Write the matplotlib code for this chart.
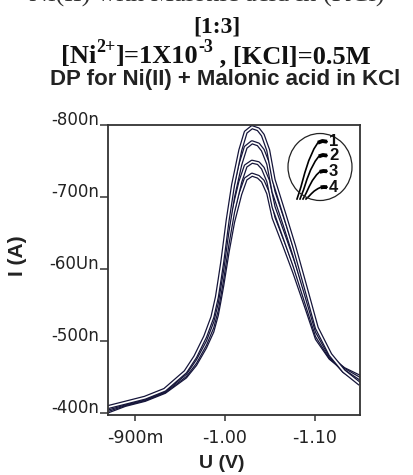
import matplotlib
matplotlib.use("Agg")
import matplotlib.pyplot as plt
from matplotlib.patches import Ellipse

# ---- data ----
potential = [-0.870, -0.889, -0.911, -0.933, -0.956, -0.967, -0.978, -0.986, -0.991,
             -0.994, -0.997, -1.003, -1.009, -1.017, -1.023, -1.030, -1.037, -1.042,
             -1.048, -1.054, -1.066, -1.077, -1.091, -1.102, -1.117, -1.132, -1.150]
current_1 = [-408, -414, -421, -432, -457, -478, -506, -533, -561, -585, -610, -668, -717,
             -765, -790, -797, -794, -786, -765, -724, -676, -631, -568, -518, -481, -458, -440]
current_2 = [-406, -413, -420, -431, -455, -475, -501, -527, -553, -576, -599, -654, -700,
             -745, -769, -776, -773, -765, -746, -707, -662, -619, -560, -513, -479, -458, -443]
current_3 = [-404, -412, -419, -430, -452, -470, -495, -519, -543, -564, -586, -636, -679,
             -721, -743, -749, -747, -740, -722, -686, -644, -605, -550, -507, -477, -460, -447]
current_4 = [-402, -411, -418, -429, -450, -467, -491, -513, -536, -556, -577, -624, -665,
             -704, -725, -731, -728, -722, -705, -671, -632, -595, -544, -503, -476, -461, -450]
series = [current_1, current_2, current_3, current_4]
series_labels = ["1", "2", "3", "4"]

x_ticks = [-0.90, -1.00, -1.10]
x_tick_labels = ["-900m", "-1.00", "-1.10"]
y_ticks = [-800, -700, -600, -500, -400]
y_tick_labels = ["-800n", "-700n", "-60Un", "-500n", "-400n"]

W, H = 414, 475
fig = plt.figure(figsize=(W / 100, H / 100), dpi=100)
fig.patch.set_facecolor('white')

ax = fig.add_axes([108 / W, 1 - 415 / H, 252 / W, 290 / H])
for cur in reversed(series):
    ax.plot(potential, cur, color='#15153a', lw=3.0, solid_capstyle='butt', zorder=2)
    ax.plot(potential, cur, color='white', lw=1.2, solid_capstyle='butt', zorder=2)

ax.set_xlim(-0.870, -1.150)
ax.set_ylim(-397, -800)
ax.set_xticks(x_ticks)
ax.set_xticklabels(x_tick_labels, fontname='DejaVu Sans', fontsize=12.5, color='#222222')
ax.set_yticks(y_ticks)
ax.set_yticklabels(y_tick_labels, fontname='DejaVu Sans', fontsize=12, color='#222222',
                   va='baseline')
ax.tick_params(axis='y', direction='out', length=6, width=1.1, pad=0.5, color='#333333')
ax.tick_params(axis='x', direction='out', length=4, width=1.1, pad=6, color='#333333')
for sp in ax.spines.values():
    sp.set_linewidth(1.3)
    sp.set_color('#333333')

ax.set_xlabel("U (V)", fontname='Liberation Sans', fontweight='bold', fontsize=14,
              color='#222222')
ax.xaxis.set_label_coords((222 - 108) / 252, -(463 - 415) / 290)
ax.xaxis.label.set_va('center')
fig.text(18 / W, 1 - 256 / H, "I (A)", rotation=90, ha='center', va='center',
         fontname='Liberation Sans', fontweight='bold', fontsize=15, color='#222222')

# ---- legend glyph inside circle ----
fig.patches.append(Ellipse((320 / W, 1 - 167 / H), 64 / W, 67 / H, transform=fig.transFigure,
                           fill=False, edgecolor='#222222', lw=0.9))
label_y = [142, 156, 172, 188]
for i, cur in enumerate(series):
    left = 297 + 3 * i
    top = label_y[i] - 1
    gax = fig.add_axes([left / W, 1 - 199 / H, (327 - left) / W, (199 - top) / H])
    gax.set_axis_off()
    gax.plot(potential[8:17], cur[8:17], color='black', lw=1.2, clip_on=False)
    gax.plot(potential[14:17], cur[14:17], color='black', lw=2.8, solid_capstyle='butt',
             clip_on=False)
    gax.set_xlim(potential[8], potential[16])
    gax.set_ylim(cur[8], cur[15])
    fig.text(329 / W, 1 - label_y[i] / H, series_labels[i], ha='left', va='center',
             fontname='Liberation Sans', fontweight='bold', fontsize=12, color='#111111')

# ---- titles ----
fig.text(0.5, 1 - 2 / H, "Ni(II) with Malonic acid in (KCl)", ha='center', va='baseline',
         fontname='Liberation Serif', fontsize=19, color='#333333')
fig.text(217 / W, 1 - 27 / H, "[1:3]", ha='center', va='center', fontname='Liberation Serif',
         fontweight='bold', fontsize=17, color='#111111')

pieces = [("[Ni", False), ("2+", True), ("]=1X10", False), ("-3", True),
          (" , [KCl]=0.5M", False)]
renderer = fig.canvas.get_renderer()
objs = []
for s, sup in pieces:
    t = fig.text(0, 0, s, fontname='Liberation Serif', fontweight='bold',
                 fontsize=13 if sup else 19, va='baseline', ha='left', color='#111111')
    objs.append((t, sup))
widths = [t.get_window_extent(renderer).width for t, _ in objs]
x = 216 - sum(widths) / 2
for (t, sup), w in zip(objs, widths):
    yb = 63 - (11 if sup else 0)
    t.set_position((x / W, 1 - yb / H))
    x += w

fig.text(225 / W, 1 - 79 / H, "DP for Ni(II) + Malonic acid in KCl", ha='center', va='center',
         fontname='Liberation Sans', fontweight='bold', fontsize=16, color='#222222')

fig.savefig("out.png", dpi=100)
